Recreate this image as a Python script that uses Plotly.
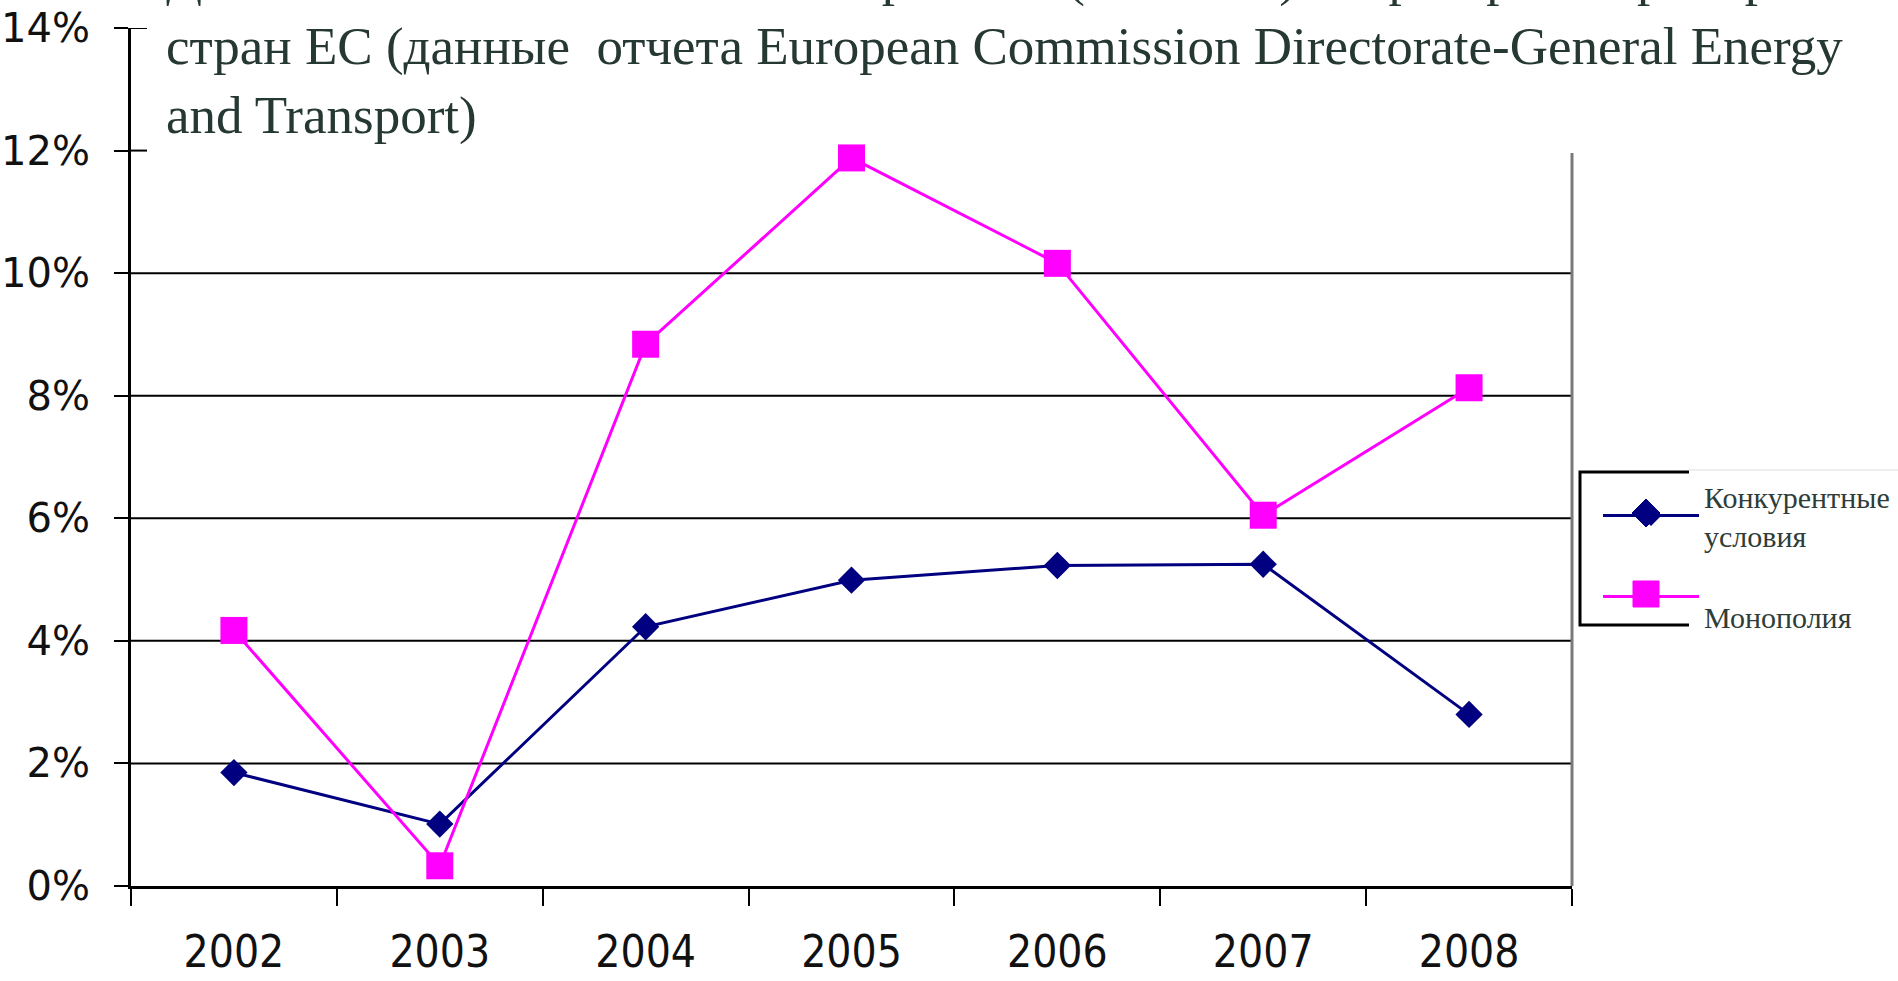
import plotly.graph_objects as go

years = ["2002", "2003", "2004", "2005", "2006", "2007", "2008"]
competitive = [1.85, 1.01, 4.23, 4.99, 5.23, 5.25, 2.80]
monopoly = [4.17, 0.33, 8.84, 11.88, 10.16, 6.05, 8.13]
y_ticks = [0, 2, 4, 6, 8, 10, 12, 14]
y_tick_labels = ["0%", "2%", "4%", "6%", "8%", "10%", "12%", "14%"]
grid_levels = [2, 4, 6, 8, 10]
short_tick_levels = [12, 14]
series_names = ["Конкурентные<br>условия", "<br>Монополия"]
title_text = ("Динамика  изменения  чистой прибыли (EBITDA) операторов  аэропортов<br>"
              "стран ЕС (данные  отчета European Commission Directorate-General Energy<br>"
              "and Transport)")

W, H = 1898, 981
L, R, T, B = 131, 326, 28, 95
pw = W - L - R
ph = H - T - B


def px_x(x):
    return (x - L) / pw


def px_y(y):
    return (H - B - y) / ph


fig = go.Figure()
fig.add_trace(go.Scatter(
    x=years, y=competitive, name=series_names[0], mode="lines+markers",
    line=dict(color="#000080", width=3),
    marker=dict(symbol="diamond", size=21, color="#000080"),
))
fig.add_trace(go.Scatter(
    x=years, y=monopoly, name=series_names[1], mode="lines+markers",
    line=dict(color="#FF00FF", width=3),
    marker=dict(symbol="square", size=27, color="#FF00FF"),
))

shapes = []
for lv in grid_levels:
    shapes.append(dict(type="line", xref="paper", yref="y", layer="below",
                       x0=0, x1=1, y0=lv, y1=lv,
                       line=dict(color="black", width=2)))
for lv in short_tick_levels:
    shapes.append(dict(type="line", xref="paper", yref="y", layer="above",
                       x0=0, x1=px_x(147), y0=lv, y1=lv,
                       line=dict(color="black", width=2)))
# right border of plot frame
shapes.append(dict(type="line", xref="paper", yref="paper", layer="above",
                   x0=1, x1=1, y0=0, y1=px_y(153),
                   line=dict(color="#7a7a7a", width=3)))
# outer frame thin line
shapes.append(dict(type="line", xref="paper", yref="paper", layer="above",
                   x0=px_x(1689), x1=px_x(1898), y0=px_y(470), y1=px_y(470),
                   line=dict(color="#dddddd", width=1)))
# legend box (open on the right)
box_l, box_r, box_t, box_b = 1580, 1689, 472, 625
shapes.append(dict(type="path", xref="paper", yref="paper", layer="above",
                   path=(f"M {px_x(box_r)} {px_y(box_t)} L {px_x(box_l)} {px_y(box_t)} "
                         f"L {px_x(box_l)} {px_y(box_b)} L {px_x(box_r)} {px_y(box_b)}"),
                   line=dict(color="black", width=3)))
# enlarged legend key markers
kx, k1y, k2y = 1646, 513, 594
d = 14
shapes.append(dict(type="path", xref="paper", yref="paper", layer="above",
                   path=(f"M {px_x(kx - d)} {px_y(k1y)} L {px_x(kx)} {px_y(k1y - d)} "
                         f"L {px_x(kx + d)} {px_y(k1y)} L {px_x(kx)} {px_y(k1y + d)} Z"),
                   fillcolor="#000080", line=dict(color="#000080", width=1)))
s = 13
shapes.append(dict(type="rect", xref="paper", yref="paper", layer="above",
                   x0=px_x(kx - s), x1=px_x(kx + s), y0=px_y(k2y + s), y1=px_y(k2y - s),
                   fillcolor="#FF00FF", line=dict(color="#FF00FF", width=1)))

fig.update_layout(
    width=W, height=H,
    margin=dict(l=L, r=R, t=T, b=B, autoexpand=False),
    paper_bgcolor="white", plot_bgcolor="white",
    showlegend=True,
    legend=dict(
        x=px_x(1598), y=px_y(470), xanchor="left", yanchor="top",
        xref="paper", yref="paper",
        borderwidth=0, bgcolor="rgba(0,0,0,0)",
        font=dict(family="Liberation Serif", size=30, color="#2f3d39"),
        itemwidth=96, valign="middle",
    ),
    xaxis=dict(
        type="category", range=[-0.5, 6.5],
        tickson="boundaries", ticks="outside", ticklen=17, tickwidth=2, tickcolor="black",
        showline=True, linecolor="black", linewidth=3,
        showgrid=False,
        tickfont=dict(family="DejaVu Sans Condensed, DejaVu Sans", size=44, color="#111111"),
        ticklabelstandoff=25,
    ),
    yaxis=dict(
        range=[0, 14], tickmode="array", tickvals=y_ticks, ticktext=y_tick_labels,
        ticks="outside", ticklen=14, tickwidth=2, tickcolor="black",
        showline=True, linecolor="black", linewidth=3,
        showgrid=False, zeroline=False,
        tickfont=dict(family="DejaVu Sans", size=40, color="#111111"),
        ticklabelstandoff=16,
    ),
    shapes=shapes,
    annotations=[
        dict(text=title_text, xref="paper", yref="paper",
             x=px_x(164), y=px_y(47), xanchor="left", yanchor="middle",
             align="left", showarrow=False,
             font=dict(family="Liberation Serif", size=53, color="#263833")),
    ],
)

fig.write_html("out.html", config={"displayModeBar": False},
               post_script="document.body.style.margin='0';")
